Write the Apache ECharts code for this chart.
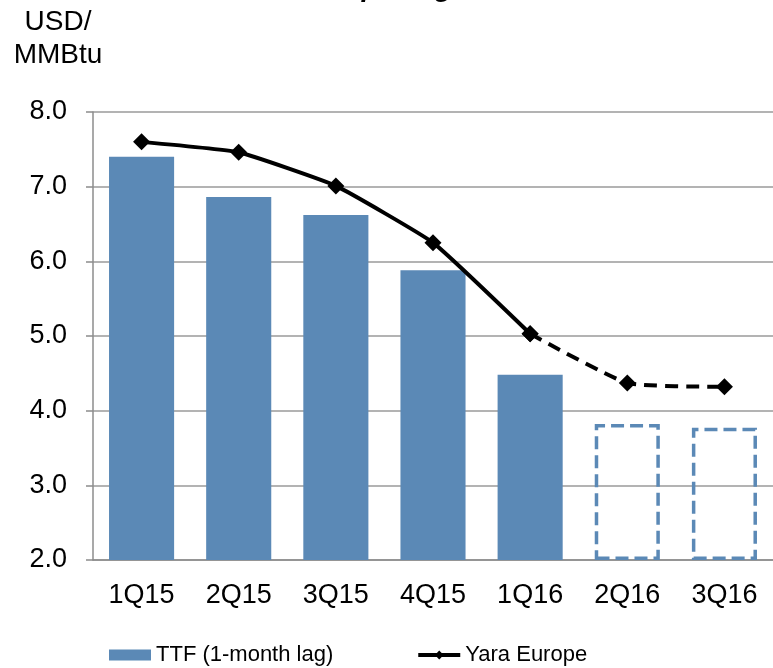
<!DOCTYPE html>
<html>
<head>
<meta charset="utf-8">
<style>
  html, body { margin: 0; padding: 0; background: #fff; }
  #chart { width: 773px; height: 668px; }
</style>
<script src="https://cdn.jsdelivr.net/npm/echarts@6/dist/echarts.min.js"></script>
</head>
<body>
<div id="chart"></div>
<script>
// Quarters on the category axis
const quarters = ['1Q15', '2Q15', '3Q15', '4Q15', '1Q16', '2Q16', '3Q16'];
// TTF gas price, 1-month lag (USD/MMBtu), actual quarters
const ttfActual = [7.40, 6.86, 6.62, 5.88, 4.48, null, null];
// TTF forward estimates, drawn as dashed outline boxes
const ttfForward = [null, null, null, null, null, 3.82, 3.77];
// Yara Europe gas cost, actual and forward
const yaraActual = [7.60, 7.46, 7.01, 6.25, 5.03, null, null];
const yaraForward = [null, null, null, null, 5.03, 4.37, 4.32];
// Value axis range and tick step
const axisMin = 2, axisMax = 8, axisStep = 1;

const FONT = 'Liberation Sans, Arial, sans-serif';
const BLUE = '#5b89b6';

const toSeries = arr => arr.map(v => (v === null ? '-' : v));

const chart = echarts.init(document.getElementById('chart'), null, { renderer: 'canvas' });

chart.setOption({
  animation: false,
  backgroundColor: '#ffffff',
  textStyle: { fontFamily: FONT, color: '#000' },
  grid: { left: 93, right: -4, top: 112, bottom: 108, containLabel: false },
  graphic: [
    {
      type: 'text',
      left: 298,
      top: -26,
      style: {
        text: 'European gas cost',
        font: 'italic bold 28px ' + FONT,
        fill: '#000'
      }
    },
    {
      type: 'text',
      x: 58,
      y: 6,
      style: {
        text: 'USD/\nMMBtu',
        font: '28px ' + FONT,
        fill: '#000',
        align: 'center',
        lineHeight: 33
      }
    }
  ],
  legend: {
    left: 104,
    top: 639,
    itemWidth: 42,
    itemHeight: 11,
    itemGap: 83,
    textStyle: { fontFamily: FONT, fontSize: 22, color: '#000' },
    data: [
      { name: 'TTF (1-month lag)', icon: 'rect' },
      { name: 'Yara Europe', lineStyle: { width: 4 } }
    ]
  },
  xAxis: {
    type: 'category',
    data: quarters,
    axisLine: { show: true, lineStyle: { color: '#8c8c8c', width: 1.5 } },
    axisTick: { show: false },
    axisLabel: { fontFamily: FONT, fontSize: 27, color: '#000', margin: 22 }
  },
  yAxis: {
    type: 'value',
    min: axisMin,
    max: axisMax,
    interval: axisStep,
    axisLine: { show: true, lineStyle: { color: '#8c8c8c', width: 1.5 } },
    axisTick: { show: true, length: 7, lineStyle: { color: '#8c8c8c', width: 1.5 } },
    splitLine: { show: true, lineStyle: { color: '#9a9a9a', width: 1.5 } },
    axisLabel: {
      fontFamily: FONT, fontSize: 27, color: '#000', margin: 26,
      formatter: v => v.toFixed(1)
    }
  },
  series: [
    {
      name: 'TTF (1-month lag)',
      type: 'bar',
      data: toSeries(ttfActual),
      barWidth: '67%',
      barGap: '-100%',
      itemStyle: { color: BLUE },
      z: 2
    },
    {
      // invisible base so the forward boxes start at the axis floor
      name: 'base',
      type: 'bar',
      stack: 'forward',
      data: ttfForward.map(v => (v === null ? '-' : axisMin)),
      barWidth: '67%',
      itemStyle: { color: 'rgba(0,0,0,0)' },
      silent: true,
      z: 1
    },
    {
      name: 'TTF forward',
      type: 'bar',
      stack: 'forward',
      clip: false,
      data: ttfForward.map(v => (v === null ? '-' : +(v - axisMin).toFixed(2))),
      barWidth: '67%',
      itemStyle: {
        color: 'rgba(0,0,0,0)',
        borderColor: BLUE,
        borderWidth: 3.5,
        borderType: [13, 6]
      },
      z: 2
    },
    {
      name: 'Yara Europe',
      type: 'line',
      data: toSeries(yaraActual),
      smooth: 0.12,
      symbol: 'diamond',
      symbolSize: 17,
      lineStyle: { color: '#000', width: 4 },
      itemStyle: { color: '#000' },
      z: 5
    },
    {
      name: 'Yara Europe forward',
      type: 'line',
      data: toSeries(yaraForward),
      smooth: 0.15,
      symbol: 'diamond',
      symbolSize: 17,
      lineStyle: { color: '#000', width: 4, type: [13, 8] },
      itemStyle: { color: '#000' },
      z: 4
    }
  ]
});
</script>
</body>
</html>
